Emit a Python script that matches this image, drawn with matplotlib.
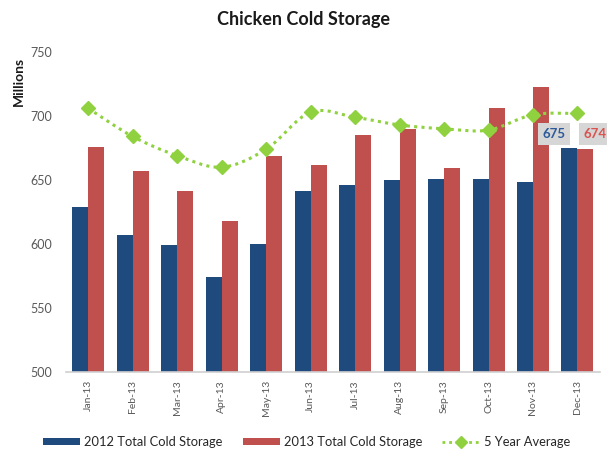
import numpy as np
import matplotlib
matplotlib.use("Agg")
import matplotlib.pyplot as plt
from matplotlib.path import Path
from matplotlib.patches import PathPatch, Patch
from matplotlib.lines import Line2D

plt.rcParams['font.family'] = ['Lato', 'DejaVu Sans']

months = ["Jan-13", "Feb-13", "Mar-13", "Apr-13", "May-13", "Jun-13",
          "Jul-13", "Aug-13", "Sep-13", "Oct-13", "Nov-13", "Dec-13"]
storage_2012 = [629, 607, 599, 574, 600, 641, 646, 650, 651, 651, 648, 675]
storage_2013 = [676, 657, 641, 618, 669, 662, 685, 690, 659, 706, 723, 674]
five_year_avg = [706, 684, 669, 660, 674, 703, 699, 693, 690, 689, 701, 702]

BLUE = "#1f4a7e"
RED = "#c0504d"
GREEN = "#8fd13f"
GRAY_TXT = "#595959"

fig = plt.figure(figsize=(6.07, 4.53), dpi=100)
ax = fig.add_axes([0.1087, 0.1795, 0.8793, 0.7055])

x = np.arange(len(months))
w = 0.36
ax.bar(x - w / 2, storage_2012, width=w, color=BLUE, zorder=2)
ax.bar(x + w / 2, storage_2013, width=w, color=RED, zorder=2)


def smooth_path(xs, ys, tension=1 / 6):
    """Catmull-Rom style cubic Bezier path through the points."""
    pts = np.column_stack([xs, ys]).astype(float)
    verts = [pts[0]]
    codes = [Path.MOVETO]
    n = len(pts)
    for i in range(n - 1):
        p0 = pts[i - 1] if i > 0 else pts[i]
        p1 = pts[i]
        p2 = pts[i + 1]
        p3 = pts[i + 2] if i + 2 < n else pts[i + 1]
        c1 = p1 + (p2 - p0) * tension
        c2 = p2 - (p3 - p1) * tension
        verts += [c1, c2, p2]
        codes += [Path.CURVE4] * 3
    return Path(verts, codes)


ax.add_patch(PathPatch(smooth_path(x, five_year_avg), fill=False,
                       edgecolor=GREEN, lw=2.2, linestyle=(0, (1, 1.4)),
                       zorder=3))
ax.plot(x, five_year_avg, linestyle="none", marker="D", markersize=7,
        color=GREEN, zorder=4)

ax.set_xlim(-0.5, 11.5)
ax.set_ylim(500, 750)
ax.set_yticks(np.arange(500, 751, 50))
ax.set_xticks(x)
ax.set_xticklabels(months, rotation=90, fontsize=7.5, color=GRAY_TXT)
ax.tick_params(axis="y", length=0, labelsize=9, labelcolor=GRAY_TXT, pad=10)
ax.tick_params(axis="x", length=0, pad=6)
for side in ("top", "right", "left"):
    ax.spines[side].set_visible(False)
ax.spines["bottom"].set_color("#d0d0d0")
ax.spines["bottom"].set_linewidth(1.2)

# value labels on the final month
box = dict(boxstyle="square,pad=0.35", facecolor="#d6d6d6", edgecolor="none")
ax.text(x[-1] - 0.53, storage_2012[-1] + 11, f"{storage_2012[-1]}",
        ha="center", va="center", fontsize=9.5, fontweight="bold",
        color="#2c5a9a", bbox=box, zorder=5, clip_on=False)
ax.text(x[-1] + 0.39, storage_2013[-1] + 12, f"{storage_2013[-1]}",
        ha="center", va="center", fontsize=9.5, fontweight="bold",
        color="#d9534f", bbox=box, zorder=5, clip_on=False)

fig.text(0.5, 0.958, "Chicken Cold Storage", ha="center", va="center",
         fontsize=13, fontweight="bold", color="#1a1a1a")
fig.text(0.031, 0.82, "Millions", ha="center", va="center", rotation=90,
         fontsize=10, fontweight="bold", color="#1a1a1a")

handles = [Patch(facecolor=BLUE, label="2012 Total Cold Storage"),
           Patch(facecolor=RED, label="2013 Total Cold Storage"),
           Line2D([0], [0], color=GREEN, lw=2, linestyle=(0, (1, 1.4)),
                  marker="D", markersize=6, label="5 Year Average")]
leg = fig.legend(handles=handles, loc="center", bbox_to_anchor=(0.505, 0.024),
                 ncol=3, frameon=False, fontsize=9.3, handlelength=2.9,
                 handleheight=0.55, columnspacing=1.55, handletextpad=0.3,
                 borderpad=0, borderaxespad=0)
for t in leg.get_texts():
    t.set_color("#262626")

fig.savefig("out.png", dpi=100)
